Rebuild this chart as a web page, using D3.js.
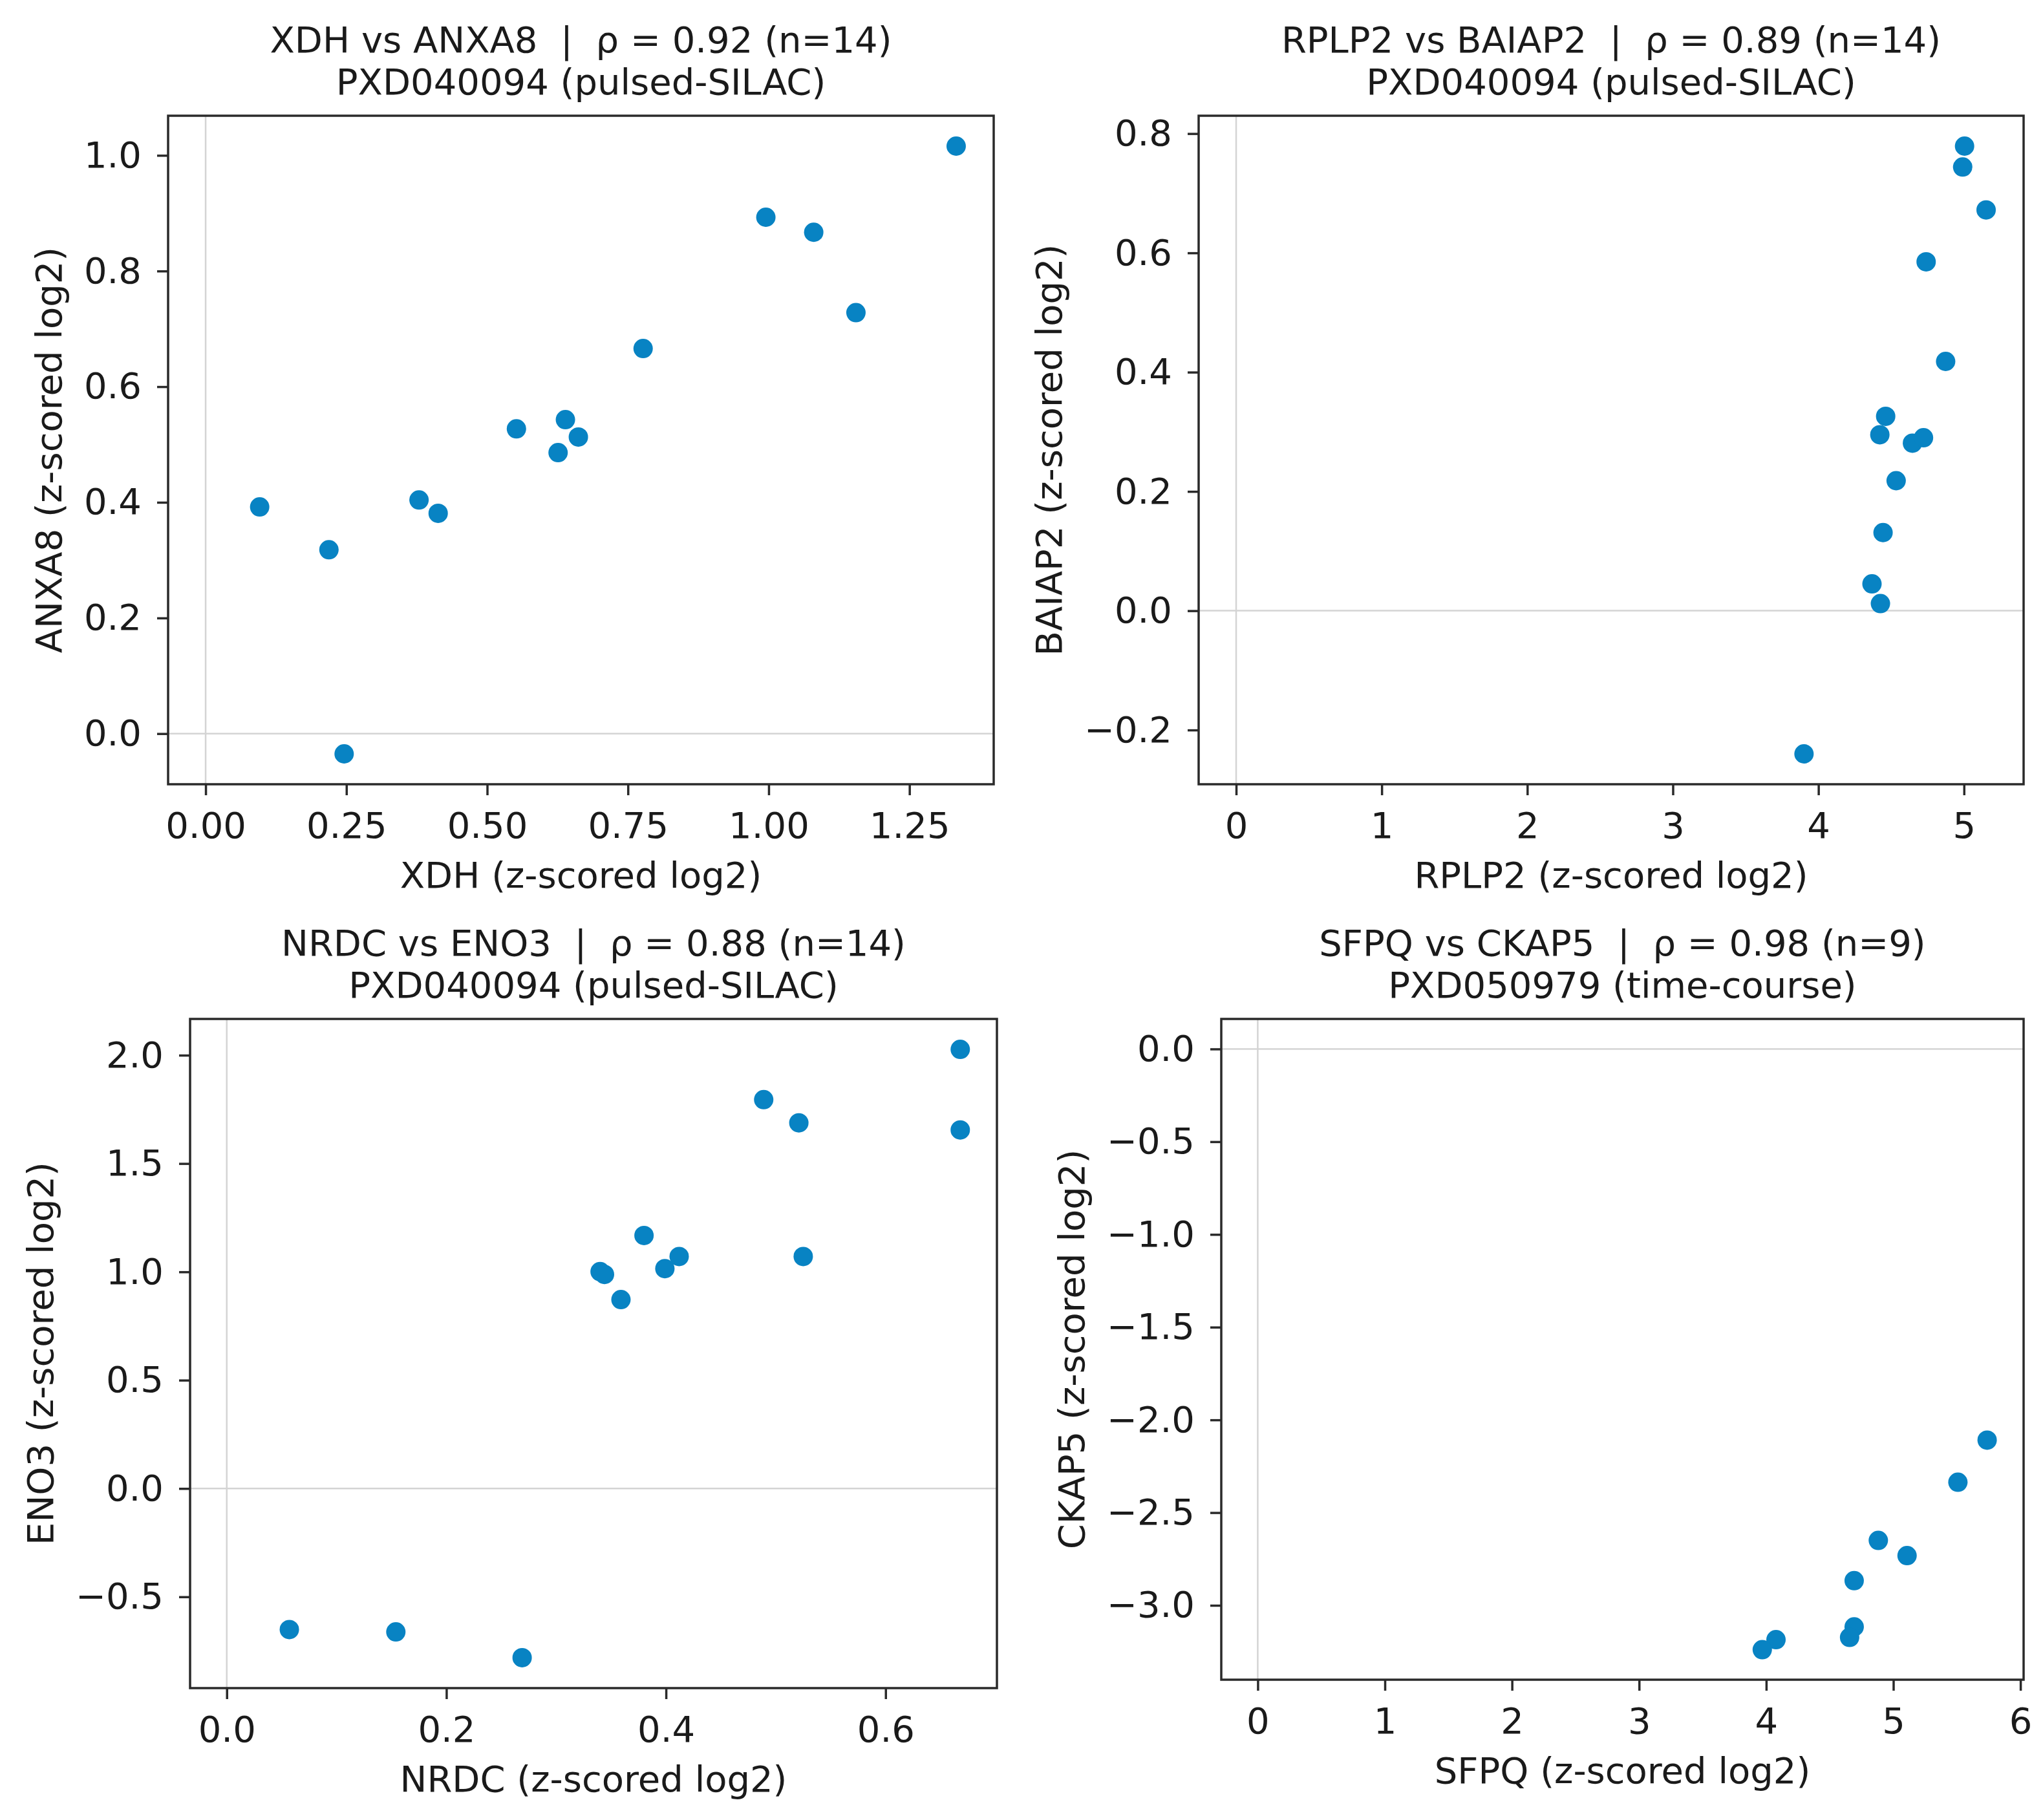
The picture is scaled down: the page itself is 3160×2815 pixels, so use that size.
<!DOCTYPE html>
<html>
<head>
<meta charset="utf-8">
<script src="https://cdn.jsdelivr.net/npm/d3@7"></script>
<style>
body { margin: 0; background: #fff; }
text { font-family: "DejaVu Sans", sans-serif; fill: #1a1a1a; white-space: pre; }
</style>
</head>
<body>
<div id="chart"></div>
<script>
// panel 1 - XDH vs ANXA8
var xdhVals   = [0.096, 0.219, 0.246, 0.379, 0.413, 0.552, 0.626, 0.639, 0.662, 0.777, 0.995, 1.080, 1.155, 1.333];
var anxa8Vals = [0.392, 0.318, -0.035, 0.404, 0.381, 0.527, 0.486, 0.543, 0.513, 0.666, 0.893, 0.867, 0.728, 1.016];
// panel 2 - RPLP2 vs BAIAP2
var rplp2Vals  = [5.004, 4.991, 5.152, 4.740, 4.874, 4.462, 4.422, 4.646, 4.722, 4.534, 4.444, 4.368, 4.426, 3.901];
var baiap2Vals = [0.779, 0.744, 0.672, 0.585, 0.418, 0.326, 0.295, 0.281, 0.290, 0.218, 0.131, 0.045, 0.012, -0.240];
// panel 3 - NRDC vs ENO3
var nrdcVals = [0.057, 0.154, 0.269, 0.340, 0.344, 0.359, 0.380, 0.399, 0.412, 0.489, 0.521, 0.525, 0.668, 0.668];
var eno3Vals = [-0.651, -0.662, -0.781, 1.001, 0.988, 0.872, 1.168, 1.015, 1.071, 1.795, 1.688, 1.071, 2.027, 1.655];
// panel 4 - SFPQ vs CKAP5
var sfpqVals  = [5.738, 5.508, 4.882, 5.108, 4.692, 4.692, 4.656, 4.077, 3.969];
var ckap5Vals = [-2.109, -2.336, -2.650, -2.732, -2.867, -3.116, -3.173, -3.185, -3.239];

// ticks
var xTicks1 = [0, 0.25, 0.5, 0.75, 1.0, 1.25];
var yTicks1 = [0, 0.2, 0.4, 0.6, 0.8, 1.0];
var xTicks2 = [0, 1, 2, 3, 4, 5];
var yTicks2 = [-0.2, 0, 0.2, 0.4, 0.6, 0.8];
var xTicks3 = [0, 0.2, 0.4, 0.6];
var yTicks3 = [-0.5, 0, 0.5, 1.0, 1.5, 2.0];
var xTicks4 = [0, 1, 2, 3, 4, 5, 6];
var yTicks4 = [-3.0, -2.5, -2.0, -1.5, -1.0, -0.5, 0.0];

var titles = [
    ["XDH vs ANXA8  |  \u03c1 = 0.92 (n=14)", "PXD040094 (pulsed-SILAC)"],
    ["RPLP2 vs BAIAP2  |  \u03c1 = 0.89 (n=14)", "PXD040094 (pulsed-SILAC)"],
    ["NRDC vs ENO3  |  \u03c1 = 0.88 (n=14)", "PXD040094 (pulsed-SILAC)"],
    ["SFPQ vs CKAP5  |  \u03c1 = 0.98 (n=9)", "PXD050979 (time-course)"]
];
var xLabels = ["XDH (z-scored log2)", "RPLP2 (z-scored log2)", "NRDC (z-scored log2)", "SFPQ (z-scored log2)"];
var yLabels = ["ANXA8 (z-scored log2)", "BAIAP2 (z-scored log2)", "ENO3 (z-scored log2)", "CKAP5 (z-scored log2)"];

var width = 3160, height = 2815;
var fontSize = 56;
var dotColor = "#0883c3";

var svg = d3.select("#chart").append("svg")
    .attr("width", width)
    .attr("height", height);

function fmtMinus(f) {
    return d => f(d).replace("-", "\u2212");
}

// like matplotlib autoscale: data + the 0 lines, 5% margins
function padDomain(vals) {
    let lo = Math.min(0, d3.min(vals));
    let hi = Math.max(0, d3.max(vals));
    let m = (hi - lo) * 0.05;
    return [lo - m, hi + m];
}

function drawPanel(p) {
    let g = svg.append("g");
    let x = d3.scaleLinear().domain(padDomain(p.xs)).range([p.left, p.left + p.w]);
    let y = d3.scaleLinear().domain(padDomain(p.ys)).range([p.top + p.h, p.top]);

    // zero reference lines
    g.append("line")
        .attr("x1", p.left).attr("x2", p.left + p.w)
        .attr("y1", y(0)).attr("y2", y(0))
        .attr("stroke", "#d4d4d4").attr("stroke-width", 2.5);
    g.append("line")
        .attr("x1", x(0)).attr("x2", x(0))
        .attr("y1", p.top).attr("y2", p.top + p.h)
        .attr("stroke", "#d4d4d4").attr("stroke-width", 2.5);

    let pts = p.xs.map((v, i) => [v, p.ys[i]]);
    g.selectAll("circle.dot").data(pts).enter()
        .append("circle")
        .attr("class", "dot")
        .attr("cx", d => x(d[0]))
        .attr("cy", d => y(d[1]))
        .attr("r", 15)
        .attr("fill", dotColor);

    let xAxis = d3.axisBottom(x).tickValues(p.xTicks).tickFormat(fmtMinus(d3.format(p.xFmt)))
        .tickSize(17).tickPadding(26).tickSizeOuter(0);
    let yAxis = d3.axisLeft(y).tickValues(p.yTicks).tickFormat(fmtMinus(d3.format(p.yFmt)))
        .tickSize(17).tickPadding(24).tickSizeOuter(0);

    let gx = g.append("g")
        .attr("transform", "translate(0," + (p.top + p.h) + ")")
        .call(xAxis);
    let gy = g.append("g")
        .attr("transform", "translate(" + p.left + ",0)")
        .call(yAxis);
    [gx, gy].forEach(a => {
        a.select(".domain").remove();
        a.selectAll(".tick line").attr("stroke", "#2a2a2a").attr("stroke-width", 3.5);
        a.selectAll(".tick text")
            .attr("font-size", fontSize)
            .attr("fill", "#1a1a1a")
            .style("font-family", '"DejaVu Sans", sans-serif');
    });

    // frame
    g.append("rect")
        .attr("x", p.left).attr("y", p.top)
        .attr("width", p.w).attr("height", p.h)
        .attr("fill", "none")
        .attr("stroke", "#2a2a2a")
        .attr("stroke-width", 3.5);

    let cx = p.left + p.w / 2;
    g.append("text")
        .attr("x", cx).attr("y", p.top - 98)
        .attr("text-anchor", "middle").attr("font-size", fontSize)
        .text(p.title[0]);
    g.append("text")
        .attr("x", cx).attr("y", p.top - 33)
        .attr("text-anchor", "middle").attr("font-size", fontSize)
        .text(p.title[1]);

    g.append("text")
        .attr("x", cx).attr("y", p.top + p.h + 160)
        .attr("text-anchor", "middle").attr("font-size", fontSize)
        .text(p.xLabel);

    let tickLeft = d3.min(gy.selectAll(".tick text").nodes(), n => n.getBBox().x) + p.left;
    let ly = p.top + p.h / 2;
    let lx = tickLeft - 55;
    g.append("text")
        .attr("transform", "translate(" + lx + "," + ly + ") rotate(-90)")
        .attr("dy", "0.35em")
        .attr("text-anchor", "middle").attr("font-size", fontSize)
        .text(p.yLabel);
}

var panels = [
    {xs: xdhVals, ys: anxa8Vals, xTicks: xTicks1, yTicks: yTicks1, xFmt: ".2f", yFmt: ".1f",
     left: 260, top: 179, w: 1277, h: 1034},
    {xs: rplp2Vals, ys: baiap2Vals, xTicks: xTicks2, yTicks: yTicks2, xFmt: "d", yFmt: ".1f",
     left: 1854, top: 179, w: 1276, h: 1034},
    {xs: nrdcVals, ys: eno3Vals, xTicks: xTicks3, yTicks: yTicks3, xFmt: ".1f", yFmt: ".1f",
     left: 294, top: 1576, w: 1248, h: 1035},
    {xs: sfpqVals, ys: ckap5Vals, xTicks: xTicks4, yTicks: yTicks4, xFmt: "d", yFmt: ".1f",
     left: 1889, top: 1576, w: 1241, h: 1022}
];

panels.forEach((p, i) => {
    p.title = titles[i];
    p.xLabel = xLabels[i];
    p.yLabel = yLabels[i];
    drawPanel(p);
});
</script>
</body>
</html>
